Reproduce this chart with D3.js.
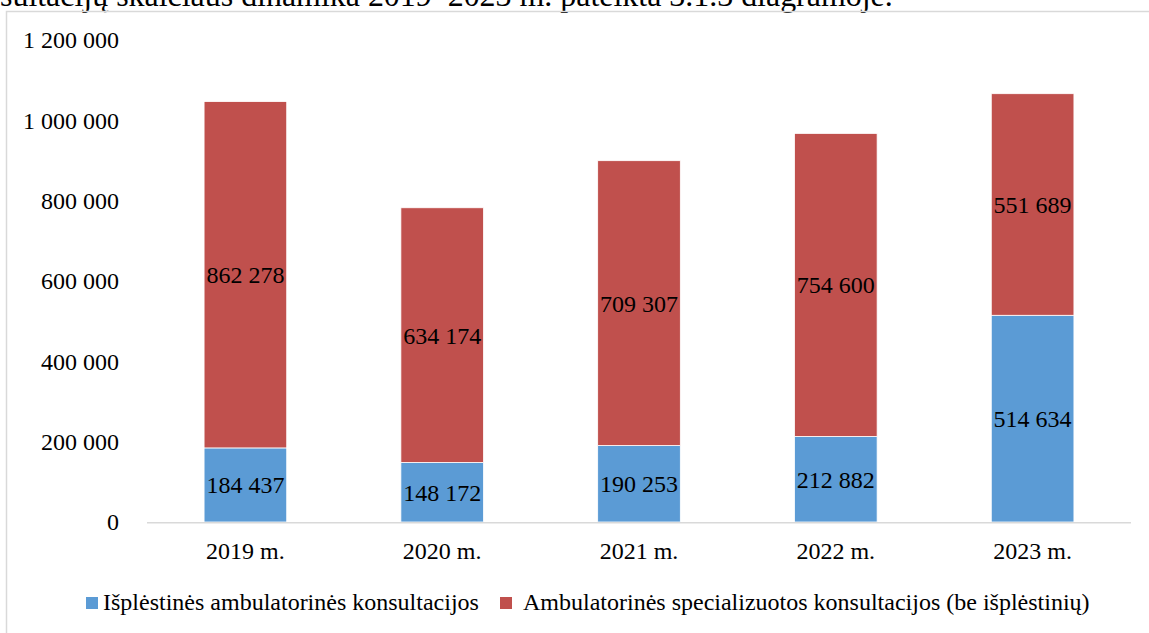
<!DOCTYPE html>
<html>
<head>
<meta charset="utf-8">
<script src="https://cdn.jsdelivr.net/npm/d3@7"></script>
<style>
  body { margin: 0; background: #fff; overflow: hidden; }
  svg { display: block; font-family: "Liberation Serif", "Times New Roman", serif; }
</style>
</head>
<body>
<div id="chart"></div>
<script>
const years = ["2019 m.", "2020 m.", "2021 m.", "2022 m.", "2023 m."];
const extendedConsults = [184437, 148172, 190253, 212882, 514634];
const specialistConsults = [862278, 634174, 709307, 754600, 551689];
const yTicks = [0, 200000, 400000, 600000, 800000, 1000000, 1200000];
const seriesNames = [
  "Išplėstinės ambulatorinės konsultacijos",
  "Ambulatorinės specializuotos konsultacijos (be išplėstinių)"
];
const seriesColors = ["#5b9bd5", "#c0504d"];
const pageText = "sultacijų skaičiaus dinamika 2019–2023 m. pateikta 3.1.3 diagramoje.";

const width = 1149;
const height = 633;
const fontSize = 24;

const svg = d3.select("#chart")
  .append("svg")
  .attr("width", width)
  .attr("height", height);

// text line of the document above the chart (cut by the crop, as in the source)
const pageLine = svg.append("text")
  .attr("x", 0)
  .attr("y", 6)
  .attr("font-size", 28)
  .attr("fill", "#000")
  .text(pageText);
const tw = pageLine.node().getComputedTextLength();
pageLine.attr("font-size", 28 * 893 / tw);

// chart frame
svg.append("path")
  .attr("d", `M6.5,${height + 5} V11.5 H${width + 5}`)
  .attr("fill", "none")
  .attr("stroke", "#d9d9d9")
  .attr("stroke-width", 1.5);

const x = d3.scaleBand()
  .domain(years)
  .range([147, 1131])
  .paddingInner(0.58)
  .paddingOuter(0.29);

const y = d3.scaleLinear()
  .domain([0, 1200000])
  .range([522, 40]);

const fmt = v => d3.format(",")(v).replace(/,/g, " ");

// y tick labels
svg.append("g")
  .selectAll("text")
  .data(yTicks)
  .join("text")
  .attr("x", 119)
  .attr("y", d => y(d))
  .attr("dy", "0.35em")
  .attr("text-anchor", "end")
  .attr("font-size", fontSize)
  .text(fmt);

// stacked data
const rows = years.map((yr, i) => ({
  year: yr,
  a: extendedConsults[i],
  b: specialistConsults[i]
}));
const stack = d3.stack().keys(["a", "b"])(rows);

const layers = svg.append("g")
  .selectAll("g")
  .data(stack)
  .join("g")
  .attr("fill", (d, i) => seriesColors[i]);

layers.selectAll("rect")
  .data(d => d)
  .join("rect")
  .attr("x", d => x(d.data.year))
  .attr("width", x.bandwidth())
  .attr("y", d => y(d[1]))
  .attr("height", d => y(d[0]) - y(d[1]))
  .attr("stroke", "#fff")
  .attr("stroke-width", 0.8);

// x axis line
svg.append("line")
  .attr("x1", 147)
  .attr("x2", 1131)
  .attr("y1", y(0) + 0.75)
  .attr("y2", y(0) + 0.75)
  .attr("stroke", "#d9d9d9")
  .attr("stroke-width", 1.5);

// segment labels
layers.selectAll("text")
  .data(d => d)
  .join("text")
  .attr("x", d => x(d.data.year) + x.bandwidth() / 2)
  .attr("y", d => (y(d[0]) + y(d[1])) / 2)
  .attr("dy", "0.35em")
  .attr("text-anchor", "middle")
  .attr("font-size", fontSize)
  .attr("fill", "#000")
  .text(d => fmt(d[1] - d[0]));

// x labels
svg.append("g")
  .selectAll("text")
  .data(years)
  .join("text")
  .attr("x", d => x(d) + x.bandwidth() / 2)
  .attr("y", 559)
  .attr("text-anchor", "middle")
  .attr("font-size", fontSize)
  .text(d => d);

// legend
const legendX = [86, 500];
const legend = svg.append("g")
  .selectAll("g")
  .data(seriesNames)
  .join("g")
  .attr("transform", (d, i) => `translate(${legendX[i]}, 597)`);

legend.append("rect")
  .attr("width", 12)
  .attr("height", 12)
  .attr("fill", (d, i) => seriesColors[i]);

legend.append("text")
  .attr("x", (d, i) => i === 0 ? 17 : 23)
  .attr("y", 13)
  .attr("font-size", fontSize)
  .text(d => d);
</script>
</body>
</html>
